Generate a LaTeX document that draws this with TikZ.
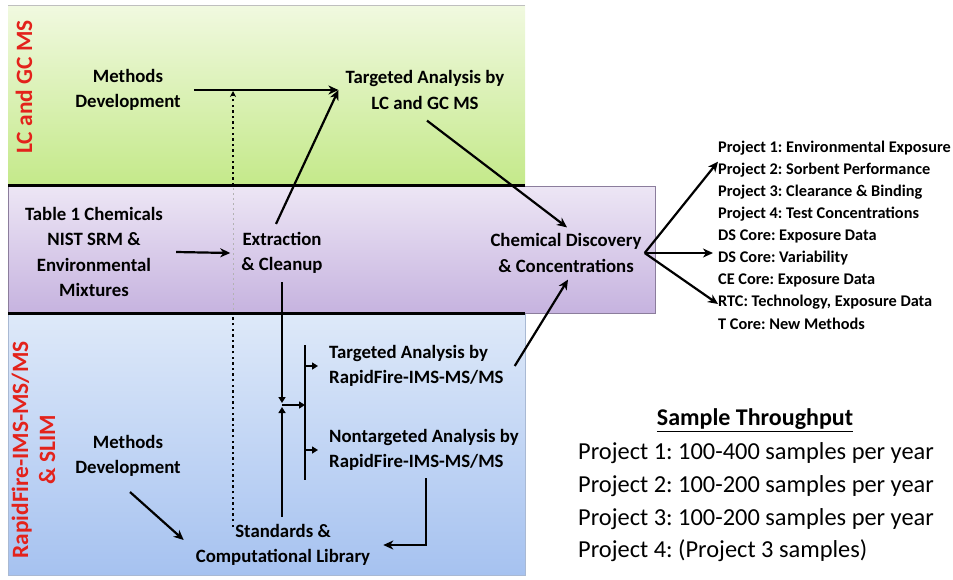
\documentclass[tikz,border=0pt]{standalone}
\usepackage{fontspec}
\setmainfont{Carlito}
\frenchspacing
\usetikzlibrary{arrows.meta,calc}
\definecolor{greenT}{HTML}{F1F9E0}
\definecolor{greenB}{HTML}{C4E98A}
\definecolor{purpT}{HTML}{EDE6F5}
\definecolor{purpB}{HTML}{C6B3DF}
\definecolor{blueT}{HTML}{DEE9F9}
\definecolor{blueB}{HTML}{A6C2F0}
\definecolor{sideRed}{HTML}{E3221B}
\begin{document}
\begin{tikzpicture}[x=1pt,y=-1pt,
  lbl/.style={font=\bfseries\fontsize{18.8}{25.5}\selectfont, align=center, inner sep=1pt},
  lblL/.style={lbl, align=left, anchor=west},
  side/.style={font=\bfseries\fontsize{23.4}{27}\selectfont, text=sideRed, rotate=90, align=center, inner sep=0pt},
  item/.style={font=\bfseries\fontsize{16.3}{18}\selectfont, anchor=west, inner sep=0pt},
  tput/.style={font=\fontsize{24.4}{28}\selectfont, anchor=west, inner sep=0pt},
  arr/.style={line width=2.2pt, -{Stealth[length=10pt,width=9pt,inset=3pt]}},
  sarr/.style={line width=1.6pt, -{Triangle[length=6pt,width=7pt]}},
  bar/.style={line width=1.8pt},
  dots/.style={line width=2.4pt, dash pattern=on 2.4pt off 3.2pt},
  band/.style={line width=0.8pt}
]
\useasboundingbox (0,0) rectangle (953,579);

% --- coloured bands -------------------------------------------------------
\shade[top color=greenT, bottom color=greenB] (8,5) rectangle (525,185);
\draw[band, color=black!25] (8,5) -- (525,5);
\shade[top color=blueT, bottom color=blueB] (8,313) rectangle (525,575);
\draw[band, color=blueB!80!black!70] (8,313) rectangle (525,575);

% dotted feedback line from the library up to the LC/GC methods arrow
\coordinate (dotBot) at (233,527);
\coordinate (dotTop) at (233,91);
\draw[dots, -{Stealth[length=6pt,width=6pt]}] (dotBot) -- (dotTop);

\shade[top color=purpT, bottom color=purpB] (8,186) rectangle (655,313);
\draw[band, color=purpB!70!black] (8,186) rectangle (655,313);
\draw[line width=1pt, dash pattern=on 2pt off 3pt, color=black!30] (233,188) -- (233,311);

\draw[line width=3pt] (8,185) -- (525,185);
\draw[line width=3pt] (8,313) -- (525,313);

% --- side labels -----------------------------------------------------------
\node[side] (lcgc) at (24,87) {LC and GC MS};
\node[side] (rfims) at (33.5,450) {RapidFire-IMS-MS/MS\\\& SLIM};

% --- process nodes ---------------------------------------------------------
\node[lbl] (mdtop) at (128,90) {Methods\\Development};
\node[lbl] (talc)  at (425,90) {Targeted Analysis by\\LC and GC MS};
\node[lbl] (tab)   at (94,252) {Table 1 Chemicals\\NIST SRM \&\\Environmental\\Mixtures};
\node[lbl] (ext)   at (282,253) {Extraction\\\& Cleanup};
\node[lbl] (cd)    at (566,253) {Chemical Discovery\\\& Concentrations};
\node[lblL] (tarf) at (328,366) {Targeted Analysis by\\RapidFire-IMS-MS/MS};
\node[lblL] (ntarf) at (328,450) {Nontargeted Analysis by\\RapidFire-IMS-MS/MS};
\node[lbl] (std)   at (283,545) {Standards \&\\Computational Library};
\node[lbl] (mdbot) at (128,456) {Methods\\Development};

% --- project list ----------------------------------------------------------
\foreach \t [count=\i] in {{Project 1: Environmental Exposure},
    {Project 2: Sorbent Performance}, {Project 3: Clearance \& Binding},
    {Project 4: Test Concentrations}, {DS Core: Exposure Data},
    {DS Core: Variability}, {CE Core: Exposure Data},
    {RTC: Technology, Exposure Data}, {T Core: New Methods}}
  \node[item] (p\i) at (718,{148+22*(\i-1)}) {\t};

% --- sample throughput -----------------------------------------------------
\node[font=\bfseries\fontsize{24}{28}\selectfont, inner sep=0pt] (sthead) at (755,420) {\underline{Sample Throughput}};
\node[tput] (st1) at (578,453) {Project 1: 100-400 samples per year};
\node[tput] (st2) at (578,486) {Project 2: 100-200 samples per year};
\node[tput] (st3) at (578,519) {Project 3: 100-200 samples per year};
\node[tput] (st4) at (578,551) {Project 4: (Project 3 samples)};

% --- connectors ------------------------------------------------------------
\coordinate (talcIn) at ($(talc.west)+(-6,0)$);
\draw[arr] ($(mdtop.east)+(12,0)$) -- (talcIn);
\draw[arr] ($(ext.north)+(-6,-7)$) -- (talcIn);
\draw[arr] ($(talc.south)+(2,10)$) -- ($(cd.north)+(1,-5)$);
\draw[arr] ($(tab.east)+(12,0)$) -- ($(ext.west)+(-10,0)$);
\draw[arr] ($(tarf.east)+(10,0)$) -- ($(cd.south)+(2,6)$);

% fan-out to the projects and cores
\coordinate (cdOut) at ($(cd.east)+(2,0)$);
\draw[arr] (cdOut) -- ($(p2.north west)+(0,-1)$);
\draw[arr] (cdOut) -- ($(p6.west)+(-5,-5)$);
\draw[arr] (cdOut) -- ($(p8.west)+(0,2)$);

% junction feeding the RapidFire analyses
\coordinate (jn) at (282,405);
\coordinate (barTop) at (305,345);
\coordinate (barBot) at (305,480);
\draw[sarr] ($(ext.south)+(0,7)$) -- ($(jn)+(0,-2)$);
\draw[sarr] ($(std.north)+(-1,-6)$) -- ($(jn)+(0,2)$);
\draw[sarr] (jn) -- (barTop |- jn);
\draw[bar] (barTop) -- (barBot);
\draw[sarr] (barTop |- tarf.west) -- ($(tarf.west)+(-10,0)$);
\draw[sarr] (barTop |- ntarf.west) -- ($(ntarf.west)+(-10,0)$);

\draw[arr] ($(ntarf.south)+(2,6)$) |- ($(std.east)+(12,0)$);
\draw[arr] ($(mdbot.south)+(2,14)$) -- ($(std.west)+(-11,-5)$);
\end{tikzpicture}
\end{document}
